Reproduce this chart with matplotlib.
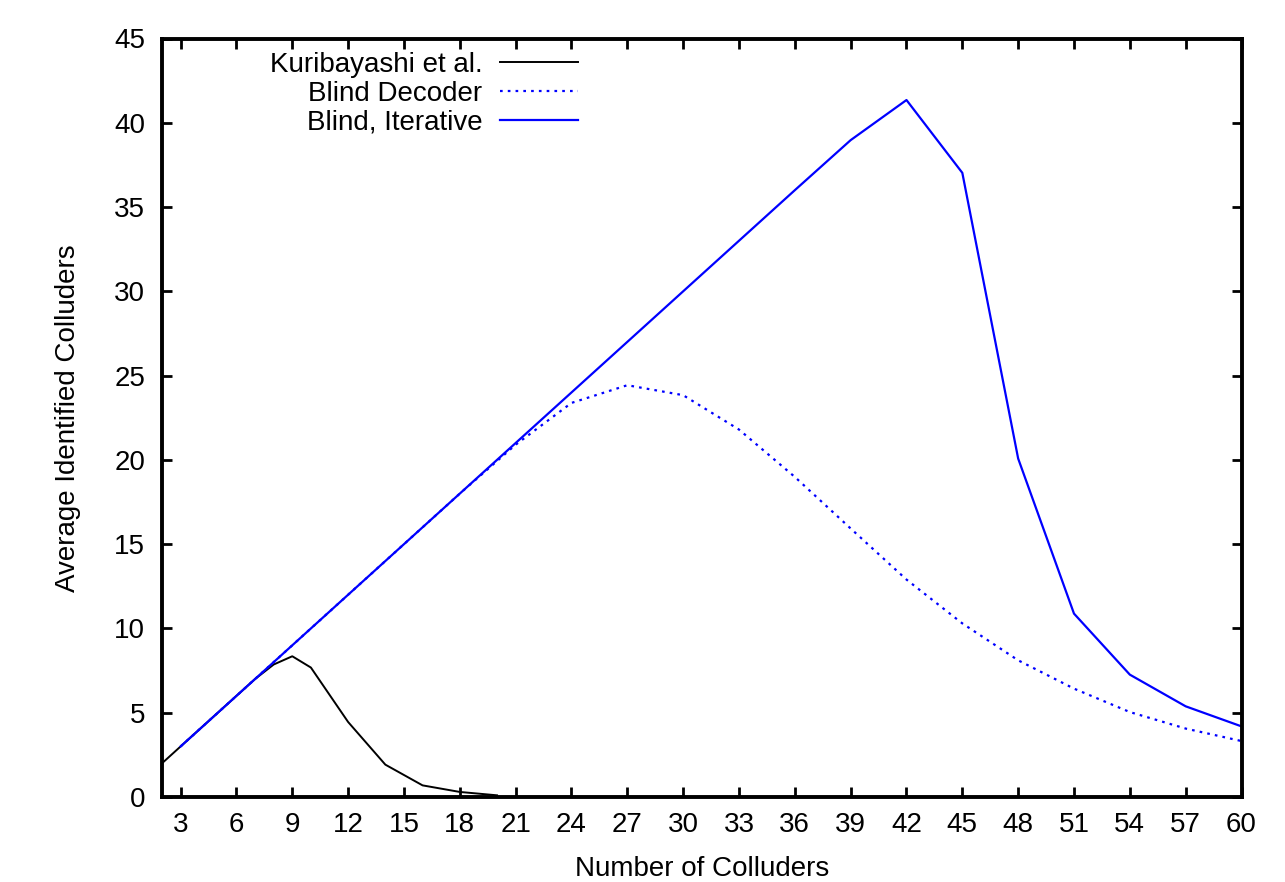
import matplotlib
matplotlib.use("Agg")
import matplotlib.pyplot as plt

# Kuribayashi et al. scheme
kuri_x = [2, 3, 4, 5, 6, 7, 8, 9, 10, 12, 14, 16, 18, 20]
kuri_y = [2.0, 3.0, 4.0, 5.0, 6.0, 7.0, 7.86, 8.35, 7.68, 4.45, 1.92, 0.69, 0.30, 0.10]

# Blind decoder and blind iterative decoder, sampled every 3 colluders
blind_x = [3, 6, 9, 12, 15, 18, 21, 24, 27, 30, 33, 36, 39, 42, 45, 48, 51, 54, 57, 60]
blind_y = [3.0, 6.0, 9.0, 12.0, 15.0, 18.0, 20.9, 23.38, 24.43, 23.84, 21.8, 18.99,
           15.93, 12.9, 10.3, 8.11, 6.43, 5.04, 4.06, 3.32]
iter_y = [3.0, 6.0, 9.0, 12.0, 15.0, 18.0, 21.0, 24.0, 27.0, 30.0, 33.0, 36.0,
          38.97, 41.35, 37.03, 20.08, 10.88, 7.26, 5.38, 4.19]

x_ticks = list(range(3, 61, 3))
y_ticks = list(range(0, 46, 5))

plt.rcParams['font.family'] = ['Liberation Sans', 'DejaVu Sans']

W, H = 1285, 882
FS = 20
fig = plt.figure(figsize=(W / 100, H / 100), dpi=100)
ax = fig.add_axes([162 / W, 1 - 797 / H, (1241.5 - 162) / W, (797 - 38.5) / H])

ax.plot(kuri_x, kuri_y, color='black', lw=1.4, label='Kuribayashi et al.')
ax.plot(blind_x, blind_y, color='#0000ff', lw=1.6, linestyle=(0, (1.2, 2.3)),
        label='Blind Decoder')
ax.plot(blind_x, iter_y, color='#0000ff', lw=1.6, label='Blind, Iterative')

ax.set_xlim(2, 60)
ax.set_ylim(0, 45)
ax.set_xticks(x_ticks)
ax.set_yticks(y_ticks)

for side in ax.spines.values():
    side.set_linewidth(2.8)
ax.tick_params(direction='in', length=7, width=2, top=True, right=True,
               labelsize=FS)
ax.tick_params(axis='x', pad=11)
ax.tick_params(axis='y', pad=12)

ax.set_xlabel('Number of Colluders', fontsize=FS, labelpad=13)
ax.set_ylabel('Average Identified Colluders', fontsize=FS, labelpad=24)

ax.legend(loc='upper right', bbox_to_anchor=(578 / W, 1 - 52 / H),
          bbox_transform=fig.transFigure, frameon=False, markerfirst=False,
          fontsize=FS, handlelength=2.8, handletextpad=0.65, borderpad=0,
          borderaxespad=0, labelspacing=0.1)

fig.savefig('out.png', dpi=100)
